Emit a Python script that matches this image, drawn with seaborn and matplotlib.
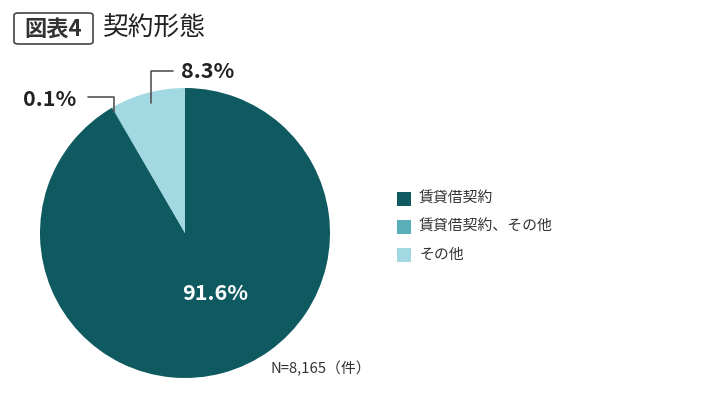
import matplotlib
matplotlib.use("Agg")
import matplotlib.pyplot as plt
import seaborn as sns
from matplotlib.patches import FancyBboxPatch, Rectangle
from matplotlib.lines import Line2D

# data
categories = ["賃貸借契約", "賃貸借契約、その他", "その他"]
shares = [91.6, 0.1, 8.3]
colors = ["#0f5960", "#5aafb6", "#a2d8e1"]
title_tag = "図表4"
title = "契約形態"
note = "N=8,165（件）"

sns.set_theme(style="white")
plt.rcParams["font.family"] = ["Noto Sans CJK JP", "DejaVu Sans"]

W, H = 702, 399
fig = plt.figure(figsize=(W / 100, H / 100), dpi=100)
fig.patch.set_facecolor("white")


def fx(x):
    return x / W


def fy(y):
    return 1 - y / H


# pie: centre (185, 233), radius 145 px
cx, cy, r = 185, 233, 145
ax = fig.add_axes([fx(cx - r), fy(cy + r), 2 * r / W, 2 * r / H])
ax.pie(shares, colors=colors, startangle=90, counterclock=False,
       wedgeprops=dict(linewidth=0))
ax.set_xlim(-1, 1)
ax.set_ylim(-1, 1)
ax.axis("off")

# percentage labels
fig.text(fx(215), fy(294), "91.6%", color="white", fontsize=15.5,
         fontweight="bold", ha="center", va="center")
fig.text(fx(50), fy(99), "0.1%", color="#222222", fontsize=15.5,
         fontweight="bold", ha="center", va="center")
fig.text(fx(208), fy(72), "8.3%", color="#222222", fontsize=15.5,
         fontweight="bold", ha="center", va="center")

# leader lines
line_kw = dict(color="#555555", linewidth=1.2, transform=fig.transFigure)
fig.add_artist(Line2D([fx(88), fx(114), fx(114)], [fy(97), fy(97), fy(112)], **line_kw))
fig.add_artist(Line2D([fx(151), fx(151), fx(173)], [fy(103), fy(71), fy(71)], **line_kw))

# legend
for i, (lab, col) in enumerate(zip(categories, colors)):
    y = 199 + i * 28
    fig.add_artist(Rectangle((fx(397), fy(y + 7)), 14 / W, 14 / H,
                             facecolor=col, edgecolor="none",
                             transform=fig.transFigure))
    fig.text(fx(419), fy(y), lab, fontsize=10.7, color="#333333",
             ha="left", va="center")

# title
fig.add_artist(FancyBboxPatch((fx(14), fy(44)), 79 / W, 31 / H,
                              boxstyle="round,pad=0,rounding_size=0.006",
                              facecolor="none", edgecolor="#444444",
                              linewidth=1.2, transform=fig.transFigure))
fig.text(fx(53), fy(29), title_tag, fontsize=16, fontweight="bold",
         color="#333333", ha="center", va="center")
fig.text(fx(103), fy(29), title, fontsize=18.5, color="#222222",
         ha="left", va="center")

fig.text(fx(271), fy(369), note, fontsize=10.7, color="#333333",
         ha="left", va="center")

fig.savefig("out.png", dpi=100, facecolor="white")
